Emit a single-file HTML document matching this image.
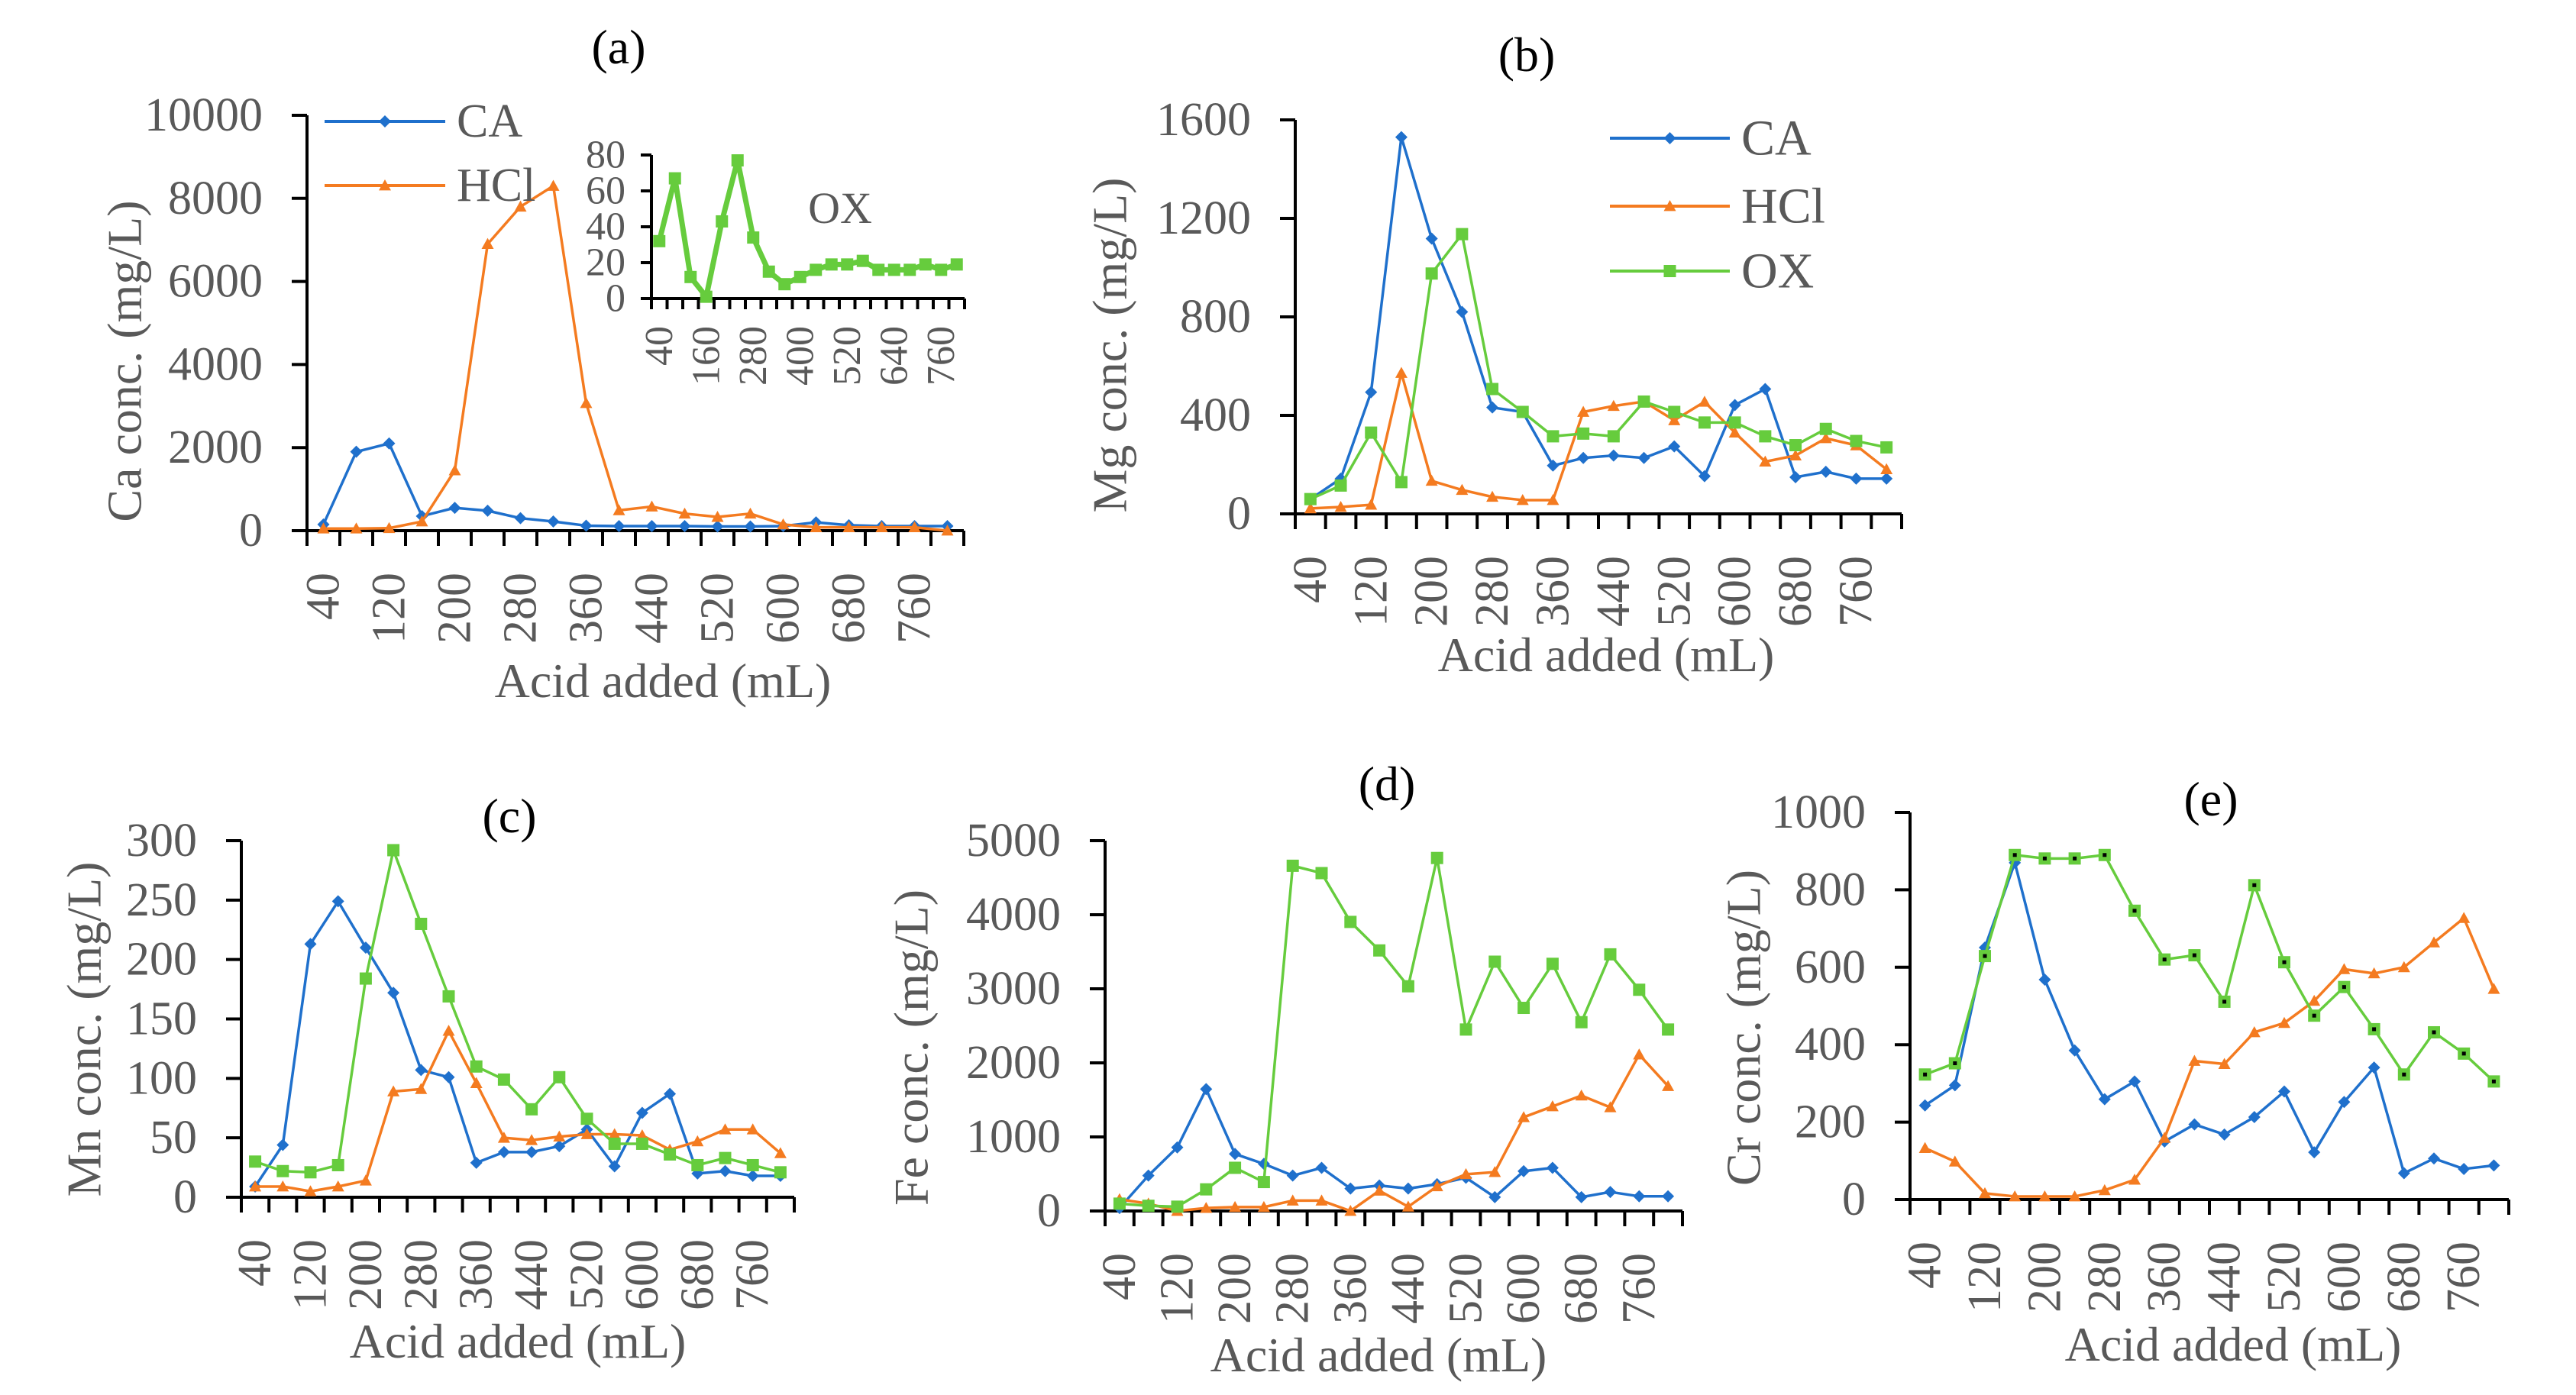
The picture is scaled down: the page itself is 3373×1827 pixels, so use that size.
<!DOCTYPE html>
<html><head><meta charset="utf-8"><style>
html,body{margin:0;padding:0;background:#fff;}
svg{display:block;}
text{font-family:"Liberation Serif",serif;}
</style></head><body>
<svg id="chart" width="3373" height="1827" viewBox="0 0 3373 1827" xmlns="http://www.w3.org/2000/svg"></svg>
<script>
// Shared categories
const categories = [40,80,120,160,200,240,280,320,360,400,440,480,520,560,600,640,680,720,760,800];
// (a) Ca
const aYTicks = [0,2000,4000,6000,8000,10000];
const aCA  = [150,1900,2100,350,550,480,300,220,120,110,110,110,100,100,110,200,130,110,110,110];
const aHCl = [50,50,60,220,1450,6900,7800,8300,3070,490,580,410,330,410,150,80,80,80,80,0];
// (a) inset OX
const aInsetYTicks = [0,20,40,60,80];
const aOX = [32,67,12,1,43,77,34,15,8,12,16,19,19,21,16,16,16,19,16,19];
// (b) Mg
const bYTicks = [0,400,800,1200,1600];
const bCA  = [60,143,494,1530,1118,820,432,414,196,227,237,227,274,153,442,507,149,171,143,143];
const bHCl = [22,28,37,572,134,97,69,56,56,414,438,456,380,455,330,212,237,307,278,181];
const bOX  = [60,115,330,129,976,1136,507,414,315,326,315,456,414,371,371,315,279,345,296,270];
// (c) Mn
const cYTicks = [0,50,100,150,200,250,300];
const cCA  = [9,44,213,249,210,172,107,101,29,38,38,43,57,26,71,87,20,22,18,18];
const cHCl = [9,9,5,9,14,89,91,140,96,50,48,51,53,53,52,40,47,57,57,37];
const cOX  = [30,22,21,27,184,292,230,169,110,99,74,101,66,45,45,36,27,33,27,21];
// (d) Fe
const dYTicks = [0,1000,2000,3000,4000,5000];
const dCA  = [40,478,858,1645,770,636,478,583,303,344,303,362,449,187,537,583,187,257,198,198];
const dHCl = [158,99,0,40,53,53,140,140,0,274,58,333,496,525,1266,1412,1558,1400,2112,1686];
const dOX  = [99,70,58,292,583,391,4661,4562,3903,3518,3034,4766,2450,3366,2742,3337,2549,3465,2987,2450];
// (e) Cr
const eYTicks = [0,200,400,600,800,1000];
const eCA  = [243,295,651,870,568,385,259,305,150,194,168,213,279,122,252,341,68,106,79,88];
const eHCl = [133,98,16,8,8,8,24,51,159,358,350,432,456,513,595,584,600,664,727,544];
const eOX  = [323,352,629,890,881,881,890,746,620,631,511,812,613,475,549,440,323,432,377,305];

const NS = "http://www.w3.org/2000/svg";
const svg = document.getElementById('chart');
const COL = {CA:'#1F70CC', HCl:'#F47B20', OX:'#66CC3D'};
const GRAY = '#595959';

function mk(tag, attrs, parent){
  const e = document.createElementNS(NS, tag);
  for (const k in attrs) e.setAttribute(k, attrs[k]);
  (parent||svg).appendChild(e);
  return e;
}
function txt(s, attrs, parent){ const t = mk('text', attrs, parent); t.textContent = s; return t; }

function marker(g, kind, x, y, s, color){
  let m;
  if (kind === 'CA'){
    m = mk('polygon', {points:`${x},${y-s} ${x+s},${y} ${x},${y+s} ${x-s},${y}`, fill:color}, g);
  } else if (kind === 'HCl'){
    m = mk('polygon', {points:`${x},${y-s} ${x+s},${y+s*0.8} ${x-s},${y+s*0.8}`, fill:color}, g);
  } else {
    m = mk('rect', {x:x-s, y:y-s, width:2*s, height:2*s, fill:color}, g);
  }
  return m;
}

function panel(cfg){
  const g = mk('g', {});
  
  
  const n = categories.length;
  const band = (cfg.x1 - cfg.x0) / n;
  const xPos = i => cfg.x0 + band * (i + 0.5);
  const yPos = v => cfg.zero - (v / cfg.ymax) * (cfg.zero - cfg.top);
  const fs = cfg.fs || 62;
  // y axis
  const ya = mk('line', {x1:cfg.x0, y1:cfg.top, x2:cfg.x0, y2:cfg.zero, stroke:'#000', 'stroke-width':cfg.aw||4}, g);
  
  
  cfg.yticks.forEach(v => {
    const y = yPos(v);
    mk('line', {x1:cfg.x0 - (cfg.tl||20), y1:y, x2:cfg.x0, y2:y, stroke:'#000', 'stroke-width':cfg.aw||4}, g);
    const t = txt(String(v), {x:cfg.x0 - (cfg.lg||58), y:y, 'text-anchor':'end', 'dominant-baseline':'central', 'font-size':fs, fill:GRAY, 'textLength': undefined}, g);
    t.removeAttribute('textLength');
    
    
  });
  // x axis
  const xa = mk('line', {x1:cfg.x0 - 2, y1:cfg.zero, x2:cfg.x1, y2:cfg.zero, stroke:'#000', 'stroke-width':cfg.aw||4}, g);
  
  
  for (let k = 0; k <= n; k++){
    const x = cfg.x0 + band * k;
    mk('line', {x1:x, y1:cfg.zero, x2:x, y2:cfg.zero + (cfg.tl||20), stroke:'#000', 'stroke-width':cfg.aw||4}, g);
  }
  categories.forEach((c, i) => {
    if (i % cfg.stride !== 0) return;
    const x = xPos(i), y = cfg.zero + (cfg.lo||55);
    const t = txt(String(c), {x:x, y:y, 'text-anchor':'end', 'dominant-baseline':'central', 'font-size':fs, fill:GRAY, transform:`rotate(-90 ${x} ${y})`}, g);
    
    
  });
  // series
  cfg.series.forEach(s => {
    const pts = s.data.map((v, i) => `${xPos(i)},${yPos(v)}`).join(' ');
    const pl = mk('polyline', {points:pts, fill:'none', stroke:COL[s.kind], 'stroke-width':s.w||3.5, 'stroke-linejoin':'round'}, g);
    
    
    s.data.forEach((v, i) => {
      const m = marker(g, s.kind, xPos(i), yPos(v), s.ms || 8, COL[s.kind]);
      
      
      if (s.dot){
        mk('rect', {x:xPos(i)-2.5, y:yPos(v)-2.5, width:5, height:5, fill:'#000'}, g);
      }
    });
  });
  // titles
  if (cfg.title){
    const t = txt(cfg.title[0], {x:cfg.title[1], y:cfg.title[2], 'text-anchor':'middle', 'font-size':64, fill:'#000'}, g);
    
    
  }
  if (cfg.xtitle){
    const t = txt('Acid added (mL)', {x:cfg.xtitle[0], y:cfg.xtitle[1], 'text-anchor':'middle', 'font-size':64, fill:GRAY}, g);
    
    
  }
  if (cfg.ytitle){
    const [s, x, y] = cfg.ytitle;
    const t = txt(s, {x:x, y:y, 'text-anchor':'middle', 'dominant-baseline':'central', 'font-size':64, fill:GRAY, transform:`rotate(-90 ${x} ${y})`}, g);
    
    
  }
  return g;
}

function legend(items, x0, x1, tx, fs){
  items.forEach(([kind, y, label]) => {
    const g = mk('g', {});
    
    
    mk('line', {x1:x0, y1:y, x2:x1, y2:y, stroke:COL[kind], 'stroke-width':4}, g);
    marker(g, kind, (x0 + x1) / 2, y, 8, COL[kind]);
    txt(label, {x:tx, y:y, 'dominant-baseline':'central', 'font-size':fs, fill:GRAY}, g);
  });
}

// (a)
panel({name:'panel-a-ca', x0:402, x1:1262, top:151, zero:695, ymax:10000, yticks:aYTicks, stride:2,
  series:[{kind:'CA', data:aCA},{kind:'HCl', data:aHCl}],
  title:['(a)', 810, 83], xtitle:[868, 913], ytitle:['Ca conc. (mg/L)', 163, 473]});
legend([['CA',159,'CA'],['HCl',243,'HCl']], 425, 583, 598, 62);
// inset
panel({name:'panel-a-inset-ox', x0:853, x1:1263, top:203, zero:391, ymax:80, yticks:aInsetYTicks, stride:3,
  fs:52, tl:14, lg:34, lo:36, aw:4,
  series:[{kind:'OX', data:aOX, w:7, ms:8}]});
(function(){ const t = txt('OX', {x:1100, y:292, 'text-anchor':'middle', 'font-size':58, fill:GRAY});
    })();
// (b)
panel({name:'panel-b-mg', x0:1696, x1:2490, top:157, zero:673, ymax:1600, yticks:bYTicks, stride:2,
  series:[{kind:'CA', data:bCA},{kind:'HCl', data:bHCl},{kind:'OX', data:bOX}],
  title:['(b)', 1999, 93], xtitle:[2103, 879], ytitle:['Mg conc. (mg/L)', 1453, 452]});
legend([['CA',181,'CA'],['HCl',270,'HCl'],['OX',355,'OX']], 2108, 2265, 2280, 66);
// (c)
panel({name:'panel-c-mn', x0:316, x1:1040, top:1101, zero:1568, ymax:300, yticks:cYTicks, stride:2,
  series:[{kind:'CA', data:cCA},{kind:'HCl', data:cHCl},{kind:'OX', data:cOX}],
  title:['(c)', 667, 1090], xtitle:[678, 1778], ytitle:['Mn conc. (mg/L)', 110, 1348]});
// (d)
panel({name:'panel-d-fe', x0:1447, x1:2203, top:1101, zero:1586, ymax:5000, yticks:dYTicks, stride:2,
  series:[{kind:'CA', data:dCA},{kind:'HCl', data:dHCl},{kind:'OX', data:dOX}],
  title:['(d)', 1816, 1048], xtitle:[1805, 1796], ytitle:['Fe conc. (mg/L)', 1193, 1372]});
// (e)
panel({name:'panel-e-cr', x0:2501, x1:3285, top:1064, zero:1571, ymax:1000, yticks:eYTicks, stride:2,
  series:[{kind:'CA', data:eCA},{kind:'HCl', data:eHCl},{kind:'OX', data:eOX, dot:true}],
  title:['(e)', 2895, 1068], xtitle:[2924, 1782], ytitle:['Cr conc. (mg/L)', 2283, 1346]});
</script>
</body></html>
